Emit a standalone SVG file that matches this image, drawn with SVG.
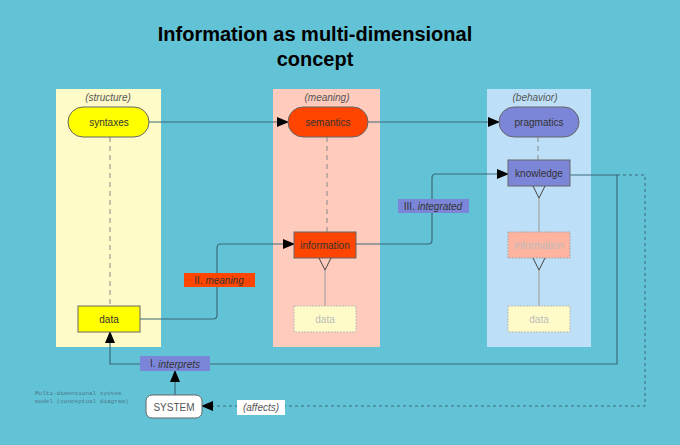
<svg xmlns="http://www.w3.org/2000/svg" width="680" height="445" viewBox="0 0 680 445">
<style>
text{font-family:"Liberation Sans",Arial,sans-serif;text-anchor:middle;dominant-baseline:central;font-size:10px;fill:#333}
.h{font-style:italic;fill:#555}
.b{stroke:#666;stroke-width:1}
.f{fill:#bbb}
.c{fill:none;stroke:#3a6a78;stroke-width:1.2}
.d{fill:none;stroke:#888;stroke-dasharray:5,4}
.v{fill:none;stroke:#444}
</style>
<defs><marker id="a" markerWidth="12" markerHeight="10" refX="11" refY="5" orient="auto" markerUnits="userSpaceOnUse"><path d="M0,0L12,5L0,10z" fill="#000"/></marker></defs>
<rect width="680" height="445" fill="#63c3d6"/>
<text x="315" y="34" style="font-size:20px;font-weight:bold;fill:#000">Information as multi-dimensional</text>
<text x="315" y="59" style="font-size:20px;font-weight:bold;fill:#000">concept</text>
<g id="col1"><rect x="56" y="89" width="105" height="258" fill="#fffbc8"/><text class="h" x="108" y="97">(structure)</text></g>
<g id="col2"><rect x="273" y="89" width="107" height="258" fill="#ffcbbd"/><text class="h" x="327" y="97">(meaning)</text></g>
<g id="col3"><rect x="487" y="89" width="104" height="258" fill="#bde0f8"/><text class="h" x="535" y="97">(behavior)</text></g>
<g id="connectors">
<path class="d" d="M110,137V306M327,137V232M538,137V160"/>
<path d="M325,270V306M539,198V232M539,270V306" stroke="#999" fill="none"/>
<path class="c" d="M149,122H288" marker-end="url(#a)"/>
<path class="c" d="M368,122H499" marker-end="url(#a)"/>
<path class="c" d="M140,319H213q4,0 4,-4V248q0,-4 4,-4H294" marker-end="url(#a)"/>
<path class="c" d="M356,244H428q4,0 4,-4V178q0,-4 4,-4H508" marker-end="url(#a)"/>
<path class="c" d="M570,175H617V364H110V332" marker-end="url(#a)"/>
<path class="c" d="M175,395V371" marker-end="url(#a)"/>
<path d="M617,175H645V406H202" fill="none" stroke="#3a6a78" stroke-dasharray="3,3" marker-end="url(#a)"/>
</g>
<g id="syntaxes"><rect class="b" x="68" y="107" width="81" height="30" rx="15" fill="#ffff00"/><text x="109" y="122">syntaxes</text></g>
<g id="semantics"><rect class="b" x="288" y="107" width="80" height="30" rx="15" fill="#ff4500"/><text x="328" y="122">semantics</text></g>
<g id="pragmatics"><rect class="b" x="499" y="107" width="80" height="30" rx="15" fill="#7b86d8"/><text x="539" y="122">pragmatics</text></g>
<g id="knowledge"><rect class="b" x="508" y="160" width="62" height="26" fill="#7b86d8"/><text x="539" y="173">knowledge</text><path class="v" d="M533,186L539,198L545,186"/></g>
<g id="info3"><rect x="508" y="232" width="62" height="26" fill="#ffb4a0" stroke="#aaa" stroke-dasharray="2,1"/><text class="f" x="539" y="245" style="fill:#bbb">information</text><path class="v" d="M533,258L539,270L545,258"/></g>
<g id="data3"><rect x="508" y="306" width="62" height="26" fill="#fffbc8" stroke="#bbb" stroke-dasharray="2,1"/><text x="539" y="319" style="fill:#bbb">data</text></g>
<g id="info2"><rect class="b" x="294" y="232" width="62" height="26" fill="#ff4500"/><text x="325" y="245">information</text><path class="v" d="M319,258L325,270L331,258"/></g>
<g id="data2"><rect x="294" y="306" width="62" height="26" fill="#fffbc8" stroke="#bbb" stroke-dasharray="2,1"/><text x="325" y="319" style="fill:#bbb">data</text></g>
<g id="data1"><rect class="b" x="78" y="306" width="62" height="26" fill="#ffff00"/><text x="109" y="319">data</text></g>
<g id="lbl2"><rect x="184" y="273" width="71" height="14" fill="#ff4500"/><text x="219" y="280">II. <tspan font-style="italic">meaning</tspan></text></g>
<g id="lbl3"><rect x="398" y="199" width="71" height="14" fill="#7b86d8"/><text x="433" y="206">III. <tspan font-style="italic">integrated</tspan></text></g>
<g id="lbl1"><rect x="140" y="356" width="70" height="15" fill="#7b86d8"/><text x="175" y="363.5">I. <tspan font-style="italic">interprets</tspan></text></g>
<g id="system"><rect class="b" x="146" y="395" width="56" height="23" rx="6" fill="#fff"/><text x="174" y="407" style="fill:#555">SYSTEM</text></g>
<g id="affects"><rect x="237" y="400" width="48" height="15" fill="#fff"/><text class="h" x="261" y="407.5">(affects)</text></g>
<g id="note"><text x="35" y="393" style="font-family:'Liberation Mono',monospace;font-size:6px;text-anchor:start;fill:#4a7a88">Multi-dimensional system</text><text x="35" y="401" style="font-family:'Liberation Mono',monospace;font-size:6px;text-anchor:start;fill:#4a7a88">model (conceptual diagram)</text></g>
</svg>
